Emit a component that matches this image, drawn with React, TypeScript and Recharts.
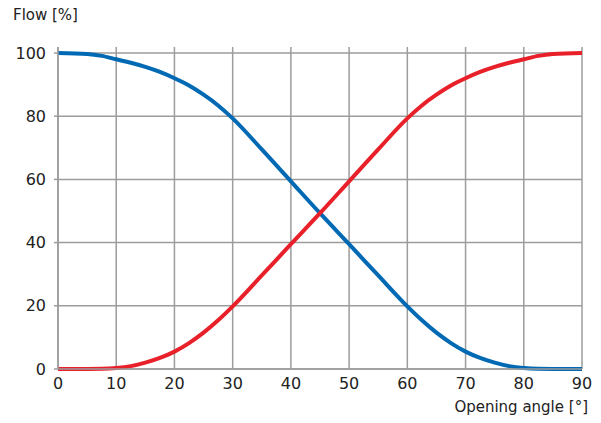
import React from "react";
import { LineChart, Line, XAxis, YAxis, CartesianGrid, Label } from "recharts";

const angles = [0, 5, 7.5, 10, 12.5, 15, 17.5, 20, 22.5, 25, 27.5, 30, 35, 40, 45, 50, 55, 60, 62.5, 65, 67.5, 70, 72.5, 75, 77.5, 80, 82.5, 85, 90];
const opening = [0, 0, 0.05, 0.3, 0.9, 2, 3.5, 5.5, 8.2, 11.5, 15.4, 19.8, 29.6, 39.5, 49.3, 59.4, 69.5, 79.3, 83.4, 86.8, 89.7, 92, 94, 95.6, 96.9, 98, 99.1, 99.7, 100];
const closing = [100, 99.7, 99.1, 98, 96.9, 95.6, 94, 92, 89.7, 86.8, 83.4, 79.3, 69.5, 59.4, 49.3, 39.5, 29.6, 19.8, 15.4, 11.5, 8.2, 5.5, 3.5, 2, 0.9, 0.3, 0.05, 0, 0];
const xTicks = [0, 10, 20, 30, 40, 50, 60, 70, 80, 90];
const yTicks = [0, 20, 40, 60, 80, 100];
const yTitle = "Flow [%]";
const xTitle = "Opening angle [°]";

const data = angles.map((a, i) => ({ angle: a, opening: opening[i], closing: closing[i] }));

const FONT = "'DejaVu Sans', sans-serif";
const GRID = "#9c9c9c";

export default function App() {
  return (
    <div style={{ position: "absolute", left: 0, top: 0, width: 601, height: 423, background: "#fff" }}>
      <LineChart width={601} height={423} data={data} margin={{ top: 47, right: 19, bottom: 24, left: 0 }}>
        <CartesianGrid stroke={GRID} strokeWidth={1.5} horizontalValues={yTicks} verticalValues={xTicks} />
        <XAxis
          dataKey="angle"
          type="number"
          domain={[0, 90]}
          ticks={xTicks}
          height={30}
          tickSize={0}
          tickMargin={9}
          axisLine={{ stroke: GRID, strokeWidth: 1.5 }}
          tick={{ fontSize: 16, fontFamily: FONT, fill: "#222" }}
        >
          <Label
            content={() => (
              <text x={588} y={412} textAnchor="end" fontSize={15} fontFamily={FONT} fill="#222">
                {xTitle}
              </text>
            )}
          />
        </XAxis>
        <YAxis
          type="number"
          domain={[0, 100]}
          ticks={yTicks}
          width={58}
          padding={{ top: 6 }}
          tickSize={4}
          tickMargin={8}
          tickLine={{ stroke: GRID, strokeWidth: 1.5 }}
          axisLine={{ stroke: GRID, strokeWidth: 1.5 }}
          tick={{ fontSize: 16, fontFamily: FONT, fill: "#222" }}
        >
          <Label
            content={() => (
              <text x={13} y={20} textAnchor="start" fontSize={15} fontFamily={FONT} fill="#222">
                {yTitle}
              </text>
            )}
          />
        </YAxis>
        <Line type="monotone" dataKey="closing" stroke="#0069b4" strokeWidth={4} dot={false} isAnimationActive={false} />
        <Line type="monotone" dataKey="opening" stroke="#e8202a" strokeWidth={4} dot={false} isAnimationActive={false} />
      </LineChart>
    </div>
  );
}
